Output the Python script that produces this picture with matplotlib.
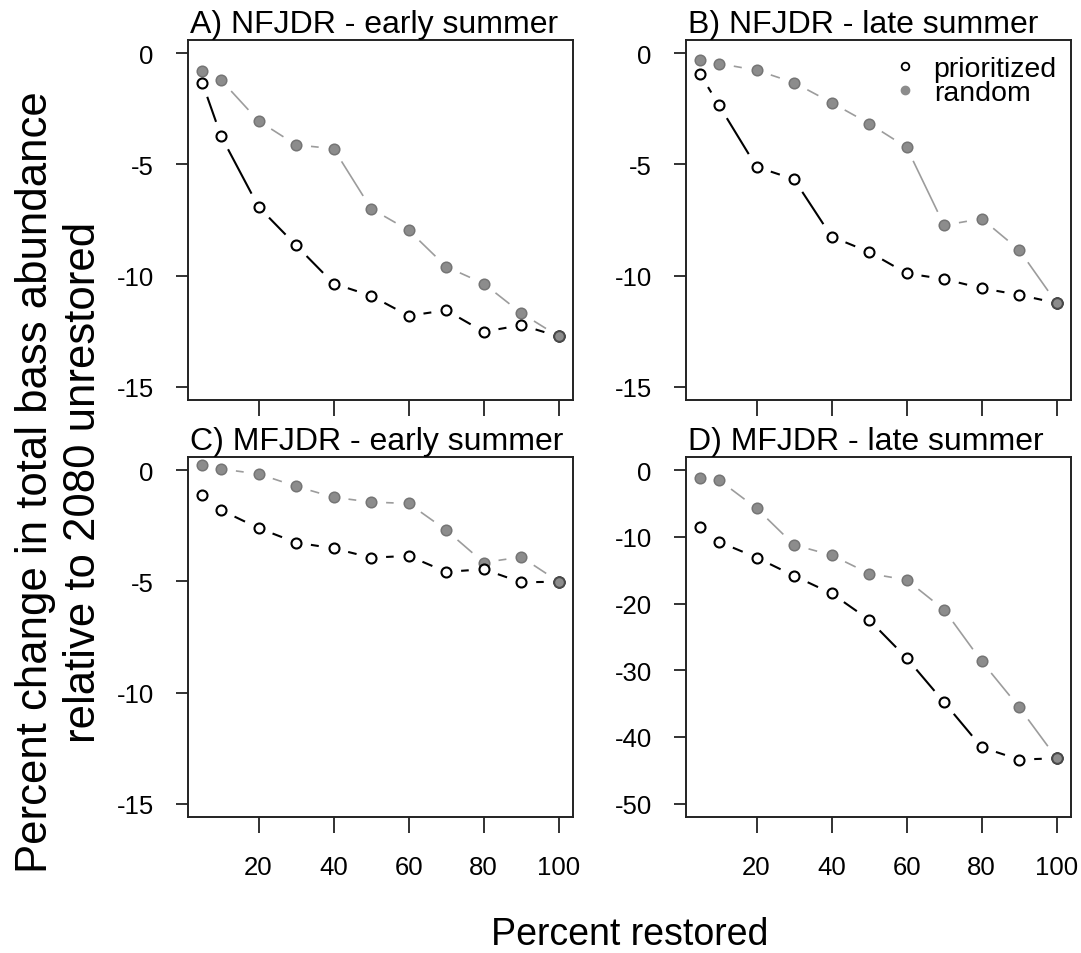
import matplotlib
matplotlib.use("Agg")
import matplotlib.pyplot as plt
from matplotlib.lines import Line2D
import numpy as np

plt.rcParams['font.family'] = ['Liberation Sans', 'DejaVu Sans']
plt.rcParams['axes.unicode_minus'] = False

# Percent of habitat restored
pct = [5, 10, 20, 30, 40, 50, 60, 70, 80, 90, 100]

# Percent change in total bass abundance, per panel
nf_early_prior = [-1.32, -3.72, -6.91, -8.64, -10.36, -10.91, -11.81, -11.56, -12.53, -12.23, -12.74]
nf_early_rand = [-0.79, -1.20, -3.04, -4.12, -4.29, -6.99, -7.96, -9.60, -10.36, -11.69, -12.74]
nf_late_prior = [-0.94, -2.34, -5.11, -5.67, -8.25, -8.94, -9.90, -10.16, -10.57, -10.87, -11.24]
nf_late_rand = [-0.31, -0.46, -0.76, -1.32, -2.22, -3.16, -4.23, -7.74, -7.44, -8.85, -11.24]
mf_early_prior = [-1.09, -1.79, -2.60, -3.25, -3.51, -3.93, -3.85, -4.57, -4.45, -5.04, -5.01]
mf_early_rand = [0.25, 0.06, -0.16, -0.72, -1.21, -1.43, -1.49, -2.69, -4.15, -3.90, -5.01]
mf_late_prior = [-8.49, -10.73, -13.08, -15.83, -18.47, -22.42, -28.16, -34.80, -41.54, -43.39, -43.19]
mf_late_rand = [-1.20, -1.45, -5.69, -11.18, -12.73, -15.48, -16.43, -20.92, -28.66, -35.55, -43.19]

titles = ["A) NFJDR - early summer", "B) NFJDR - late summer",
          "C) MFJDR - early summer", "D) MFJDR - late summer"]
x_ticks = [20, 40, 60, 80, 100]
y_ticks_small = [-15, -10, -5, 0]
y_ticks_big = [-50, -40, -30, -20, -10, 0]

W, H = 1081, 954
fig = plt.figure(figsize=(W / 100, H / 100), dpi=100)
fig.patch.set_facecolor("white")

GRAY_FILL = "#8c8c8c"
GRAY_EDGE = "#757575"
GRAY_LINE = "#9c9c9c"


def px_axes(left, top, right, bottom):
    return fig.add_axes([left / W, 1 - bottom / H, (right - left) / W, (bottom - top) / H])


def gapped_line(ax, x, y, gap, **kw):
    # type="b" style: segments stop short of each point
    pts = ax.transData.transform(np.column_stack([x, y]))
    inv = ax.transData.inverted()
    for p0, p1 in zip(pts[:-1], pts[1:]):
        d = p1 - p0
        L = np.hypot(*d)
        if L <= 2 * gap:
            continue
        u = d / L
        a = inv.transform(p0 + u * gap)
        b = inv.transform(p1 - u * gap)
        ax.plot([a[0], b[0]], [a[1], b[1]], solid_capstyle="butt", **kw)


boxes = [(188, 41, 573, 401), (686, 41, 1071, 401),
         (188, 458, 573, 818), (686, 458, 1071, 818)]
prior_sets = [nf_early_prior, nf_late_prior, mf_early_prior, mf_late_prior]
rand_sets = [nf_early_rand, nf_late_rand, mf_early_rand, mf_late_rand]

for i, box in enumerate(boxes):
    ax = px_axes(*box)
    big = i == 3
    ax.set_xlim(1.2, 103.8)
    ax.set_ylim((-52, 2) if big else (-15.6, 0.6))
    ax.set_xticks(x_ticks)
    ax.set_yticks(y_ticks_big if big else y_ticks_small)
    ax.tick_params(axis="x", length=11.5, width=1.3, pad=16, labelsize=18.5,
                   labelbottom=(i >= 2), color="#222222")
    ax.tick_params(axis="y", length=8.6, width=1.3, pad=16, labelsize=18.5, color="#222222")
    for s in ax.spines.values():
        s.set_linewidth(1.4)
        s.set_color("#222222")

    pr = prior_sets[i]
    rd = rand_sets[i]
    gapped_line(ax, pct, rd, 15, color=GRAY_LINE, lw=1.2, zorder=2)
    gapped_line(ax, pct, pr, 15, color="black", lw=1.5, zorder=2)
    ax.plot(pct, rd, "o", ms=7.6, mfc=GRAY_FILL, mec=GRAY_EDGE, mew=1.1, zorder=3)
    ax.plot(pct, pr, "o", ms=7.2, mfc="white", mec="black", mew=1.5, zorder=4)
    # shared end point drawn in grey on top
    ax.plot(pct[-1:], rd[-1:], "o", ms=7.6, mfc=GRAY_FILL, mec="#4a4a4a", mew=1.4, zorder=5)

    ax.set_title(titles[i], loc="left", fontsize=23, pad=5.5, x=0.005)

    if i == 1:
        handles = [Line2D([], [], ls="", marker="o", ms=5.5, mfc="white", mec="black", mew=1.3),
                   Line2D([], [], ls="", marker="o", ms=6, mfc=GRAY_FILL, mec=GRAY_FILL, mew=1)]
        ax.legend(handles, ["prioritized", "random"], loc="upper right", frameon=False,
                  fontsize=20.5, labelspacing=-0.08, handletextpad=0.5, handlelength=1.0,
                  borderaxespad=0.1, bbox_to_anchor=(1.0, 0.995))

fig.text(630 / W, 1 - 935 / H, "Percent restored", fontsize=27, ha="center", va="center")
fig.text(36 / W, 1 - 482 / H, "Percent change in total bass abundance", fontsize=31.5,
         rotation=90, ha="center", va="center")
fig.text(84 / W, 1 - 482 / H, "relative to 2080 unrestored", fontsize=31.5,
         rotation=90, ha="center", va="center")

fig.savefig("out.png", dpi=100)
